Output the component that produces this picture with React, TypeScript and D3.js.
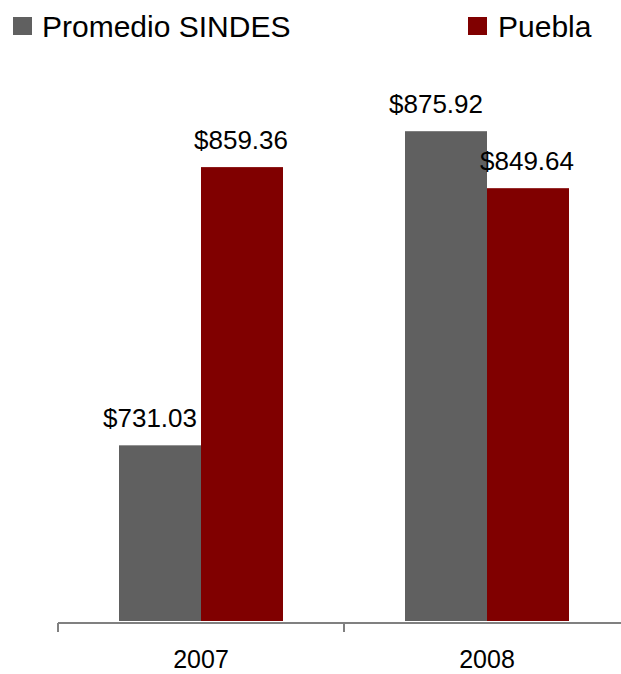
import React from "react";
import * as d3 from "d3";

const years = ["2007", "2008"];
const seriesNames = ["Promedio SINDES", "Puebla"];
const promedio = [731.03, 875.92];
const puebla = [859.36, 849.64];
const colors = ["#606060", "#800000"];

const W = 621;
const H = 674;

export default function App() {
  const x = d3.scaleBand<string>().domain(years).range([58, 630]).paddingInner(0).paddingOuter(0);
  const xs = d3
    .scaleBand<string>()
    .domain(seriesNames)
    .range([0, x.bandwidth()])
    .paddingInner(0)
    .paddingOuter(0.744);
  const y = d3.scaleLinear().domain([650, 900]).range([621, 79]);
  const values = [promedio, puebla];
  const fmt = (v: number) => "$" + d3.format(".2f")(v);
  const labelDx = [-10, -1];
  const font = "'Liberation Sans', Arial, Helvetica, sans-serif";
  const tickXs = [...years.map((d) => x(d) as number), 630];

  return (
    <svg
      width={W}
      height={H}
      style={{ position: "absolute", left: 0, top: 0, background: "#fff" }}
      fontFamily={font}
    >
      {/* legend */}
      <g>
        <rect x={13} y={17} width={19} height={18} fill={colors[0]} />
        <text x={42} y={37} fontSize={30} fill="#000">
          {seriesNames[0]}
        </text>
        <rect x={468} y={17} width={19} height={18} fill={colors[1]} />
        <text x={498} y={37} fontSize={30} fill="#000">
          {seriesNames[1]}
        </text>
      </g>
      {/* bars */}
      {years.map((yr, i) => (
        <g key={yr} transform={`translate(${x(yr)},0)`}>
          {seriesNames.map((s, j) => {
            const v = values[j][i];
            const bx = xs(s) as number;
            const bw = xs.bandwidth();
            return (
              <g key={s}>
                <rect x={bx} y={y(v)} width={bw} height={y(650) - y(v)} fill={colors[j]} />
                <text
                  x={bx + bw / 2 + labelDx[j]}
                  y={y(v) - 18}
                  textAnchor="middle"
                  fontSize={26}
                  fill="#000"
                >
                  {fmt(v)}
                </text>
              </g>
            );
          })}
        </g>
      ))}
      {/* axis */}
      <line x1={58} x2={630} y1={623} y2={623} stroke="#808080" strokeWidth={2} />
      {tickXs.map((t, i) => (
        <line key={i} x1={t} x2={t} y1={623} y2={632} stroke="#808080" strokeWidth={2} />
      ))}
      {years.map((yr) => (
        <text
          key={yr}
          x={(x(yr) as number) + x.bandwidth() / 2}
          y={668}
          textAnchor="middle"
          fontSize={25}
          fill="#000"
        >
          {yr}
        </text>
      ))}
    </svg>
  );
}
